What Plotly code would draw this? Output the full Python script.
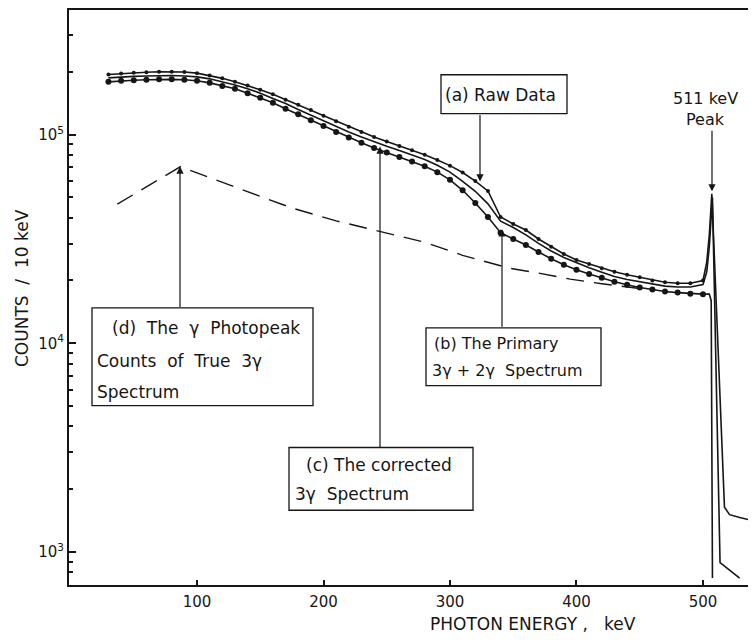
import plotly.graph_objects as go

# photon energy grid of the plotted points (keV)
energy = list(range(30, 510, 10))

# (a) raw data - top curve, small dots
raw_counts = [1.94e5, 1.96e5, 1.98e5, 1.99e5, 2.00e5, 2.00e5, 1.995e5,
              1.97e5, 1.92e5, 1.86e5, 1.79e5, 1.72e5, 1.64e5, 1.56e5, 1.47e5, 1.39e5, 1.31e5,
              1.23e5, 1.16e5, 1.09e5, 1.03e5, 9.73e4, 9.27e4, 8.83e4, 8.41e4, 8.00e4, 7.55e4,
              7.10e4, 6.58e4, 5.99e4, 5.37e4, 4.03e4, 3.73e4, 3.49e4, 3.16e4, 2.90e4, 2.68e4,
              2.51e4, 2.40e4, 2.29e4, 2.20e4, 2.13e4, 2.07e4, 2.00e4, 1.96e4, 1.94e4, 1.94e4,
              2.00e4]
raw_peak_kev = [503, 505, 507, 517, 521, 529, 542]
raw_peak = [2.45e4, 3.3e4, 5.2e4, 1640, 1510, 1465, 1400]

# (c) corrected spectrum - middle solid curve
corr_counts = [1.87e5, 1.89e5, 1.90e5, 1.91e5, 1.92e5, 1.92e5, 1.91e5,
               1.89e5, 1.85e5, 1.79e5, 1.73e5, 1.66e5, 1.58e5, 1.49e5, 1.41e5, 1.32e5, 1.24e5,
               1.17e5, 1.10e5, 1.03e5, 9.75e4, 9.23e4, 8.79e4, 8.39e4, 8.00e4, 7.59e4, 7.13e4,
               6.61e4, 5.97e4, 5.35e4, 4.66e4, 3.85e4, 3.59e4, 3.31e4, 3.01e4, 2.77e4, 2.58e4,
               2.43e4, 2.30e4, 2.19e4, 2.09e4, 2.02e4, 1.97e4, 1.92e4, 1.88e4, 1.86e4, 1.86e4,
               1.91e4]
corr_peak_kev = [503, 505, 507.5, 513.5, 529]
corr_peak = [2.2e4, 2.9e4, 5.0e4, 890, 750]

# (b) primary 3g + 2g spectrum - bottom curve, big dots
prim_counts = [1.79e5, 1.81e5, 1.82e5, 1.83e5, 1.84e5, 1.84e5, 1.83e5,
               1.81e5, 1.77e5, 1.71e5, 1.66e5, 1.58e5, 1.50e5, 1.42e5, 1.33e5, 1.25e5, 1.17e5,
               1.10e5, 1.03e5, 9.68e4, 9.14e4, 8.63e4, 8.20e4, 7.82e4, 7.43e4, 7.05e4, 6.61e4,
               6.07e4, 5.41e4, 4.70e4, 4.03e4, 3.39e4, 3.16e4, 2.96e4, 2.74e4, 2.54e4, 2.38e4,
               2.25e4, 2.15e4, 2.06e4, 1.97e4, 1.91e4, 1.85e4, 1.81e4, 1.77e4, 1.75e4, 1.73e4,
               1.72e4]
prim_peak_kev = [505, 506.5, 507.5]
prim_peak = [1.72e4, 1.6e4, 750]

# (d) gamma photopeak counts of true 3g spectrum - dashed
photo_kev = [37, 50, 60, 70, 80, 87, 100, 120, 143, 175, 210, 248, 280, 310, 347,
             370, 395, 420, 435, 453]
photo_counts = [4.64e4, 5.16e4, 5.61e4, 6.10e4, 6.63e4, 7.03e4, 6.55e4, 5.9e4, 5.23e4,
                4.45e4, 3.86e4, 3.40e4, 3.05e4, 2.64e4, 2.29e4, 2.17e4, 2.03e4, 1.93e4,
                1.88e4, 1.82e4]

INK = "#161616"
FONT = "DejaVu Sans"

# the page has an 8px body margin, so the figure is 740x628 and sits at (8, 8)
W, H = 740, 628
OFF = 8
# plot area in page pixels
L, R, T, B = 69, 748, 8, 585


def px(x):
    return (x - L) / (R - L)


def py(y):
    return (B - y) / (B - T)


fig = go.Figure()
fig.add_trace(go.Scatter(x=energy + raw_peak_kev, y=raw_counts + raw_peak, mode="lines",
                         line=dict(color=INK, width=1.6)))
fig.add_trace(go.Scatter(x=energy, y=raw_counts, mode="markers",
                         marker=dict(size=4, color=INK)))
fig.add_trace(go.Scatter(x=energy + corr_peak_kev, y=corr_counts + corr_peak, mode="lines",
                         line=dict(color=INK, width=1.6)))
fig.add_trace(go.Scatter(x=energy + prim_peak_kev, y=prim_counts + prim_peak, mode="lines",
                         line=dict(color=INK, width=1.6)))
fig.add_trace(go.Scatter(x=energy, y=prim_counts, mode="markers",
                         marker=dict(size=6, color=INK)))
fig.add_trace(go.Scatter(x=photo_kev, y=photo_counts, mode="lines",
                         line=dict(color=INK, width=1.4, dash="18px,10px")))

# labelled boxes: (x0, y0, x1, y1) in page pixels
boxes = [(441, 73, 567, 112), (426, 327, 601, 385), (289, 447, 473, 510), (92, 307, 313, 405)]
for x0, y0, x1, y1 in boxes:
    fig.add_shape(type="rect", xref="paper", yref="paper", x0=px(x0), x1=px(x1),
                  y0=py(y1), y1=py(y0), line=dict(color=INK, width=1.3),
                  fillcolor="white", layer="above")

labels = [
    ("(a) Raw Data", 443, 93, 17),
    ("511 keV", 705, 97, 16),
    ("Peak", 705, 118, 16),
    ("(b) The Primary", 432, 343, 16),
    ("3γ + 2γ  Spectrum", 430, 370, 16),
    ("(c) The corrected", 304, 465, 17),
    ("3γ  Spectrum", 293, 494, 17),
    ("(d)  The  γ  Photopeak", 110, 327, 17),
    ("Counts  of  True  3γ", 95, 360, 17),
    ("Spectrum", 95, 391, 17),
]
for text, x, y, size in labels:
    centered = text in ("511 keV", "Peak")
    fig.add_annotation(text=text, xref="paper", yref="paper", x=px(x), y=py(y),
                       xanchor="center" if centered else "left", yanchor="middle",
                       showarrow=False, font=dict(family=FONT, size=size, color=INK))

# arrows: tip (x, y) and tail (x, y) in page pixels
arrows = [((480, 180), (480, 112)), ((712, 190), (712, 128)), ((502, 228), (502, 327)),
          ((380, 145), (380, 447)), ((180, 165), (180, 307))]
for (hx, hy), (tx, ty) in arrows:
    fig.add_annotation(text="", xref="paper", yref="paper", x=px(hx), y=py(hy),
                       ax=tx - hx, ay=ty - hy, showarrow=True, arrowhead=2, arrowsize=1.2,
                       arrowwidth=1.2, arrowcolor=INK, standoff=0)

fig.add_annotation(text="COUNTS  /  10 keV", xref="paper", yref="paper", x=px(22), y=py(287),
                   xanchor="center", yanchor="middle", textangle=-90, showarrow=False,
                   font=dict(family=FONT, size=17, color=INK))
fig.add_annotation(text="PHOTON ENERGY ,   keV", xref="paper", yref="paper", x=px(533),
                   y=py(624), xanchor="center", yanchor="middle", showarrow=False,
                   font=dict(family=FONT, size=17, color=INK))

minor_y = [m * 10 ** e for e in (2, 3, 4, 5) for m in range(2, 10)]

fig.update_layout(
    width=W, height=H,
    margin=dict(l=L - OFF, r=W - (R - OFF), t=T - OFF, b=H - (B - OFF)),
    plot_bgcolor="white", paper_bgcolor="white", showlegend=False,
    font=dict(family=FONT, size=14, color=INK),
)
fig.update_xaxes(range=[-1.2, 535.6], tickvals=[100, 200, 300, 400, 500],
                 ticks="inside", ticklen=5, tickwidth=1.5, tickcolor=INK,
                 showline=True, linewidth=2, linecolor=INK, mirror=True,
                 showgrid=False, zeroline=False, tickfont=dict(size=15),
                 ticklabelstandoff=2)
fig.update_yaxes(type="log", range=[2.842, 5.597], tickvals=[1e3, 1e4, 1e5],
                 ticktext=["10<sup>3</sup>", "10<sup>4</sup>", "10<sup>5</sup>"],
                 ticks="inside", ticklen=7, tickwidth=1.5, tickcolor=INK,
                 minor=dict(tickvals=minor_y, ticks="inside", ticklen=4, tickcolor=INK),
                 showline=True, linewidth=2, linecolor=INK, showgrid=False,
                 zeroline=False, tickfont=dict(size=15))

fig.write_html("out.html")
